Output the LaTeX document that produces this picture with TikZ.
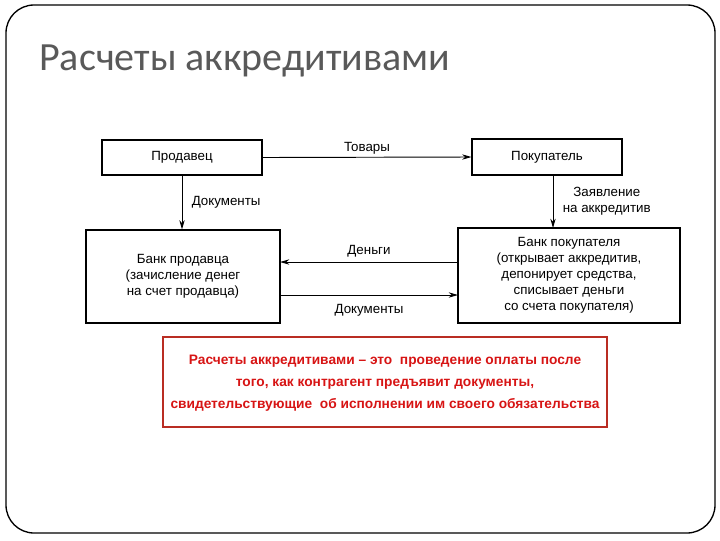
\documentclass[tikz,border=0pt]{standalone}
\usepackage{fontspec}
\setmainfont{Liberation Sans}
\newfontfamily\titlefont{Carlito}
\usetikzlibrary{arrows.meta}
\definecolor{deftext}{RGB}{215,20,20}
\definecolor{defborder}{RGB}{185,45,35}
\tikzset{
  px/.style={x=0.75pt,y=-0.75pt},
  ent/.style={draw,line width=0.8pt,inner sep=0pt,font=\fontsize{10}{12}\selectfont,align=center},
  lbl/.style={font=\fontsize{10}{12}\selectfont,inner sep=1pt,align=center},
  conn/.style={line width=0.7pt,-{Stealth[length=7pt,width=4pt]}},
}
\begin{document}
\begin{tikzpicture}[px]
\useasboundingbox (0,0) rectangle (720,540);
\draw[line width=1pt,rounded corners=21pt] (6,5) rectangle (715,533);
\node[anchor=base west,inner sep=0pt,text=black!65,font=\titlefont\fontsize{30}{36}\selectfont] (title) at (39,70) {Расчеты аккредитивами};

\node[ent,minimum width=120pt,minimum height=26.25pt] (seller) at (182,157.5) {Продавец};
\node[ent,minimum width=112.5pt,minimum height=27pt] (buyer) at (547,157) {Покупатель};
\node[ent,minimum width=145.5pt,minimum height=69.75pt] (sbank) at (183,276.5) {Банк продавца\\(зачисление денег\\на счет продавца)};
\node[ent,minimum width=166.5pt,minimum height=71.25pt] (bbank) at (569,275.5) {Банк покупателя\\(открывает аккредитив,\\депонирует средства,\\списывает деньги\\со счета покупателя)};

\draw[conn] (seller.east) -- (buyer.west) node[lbl,midway,above=1pt] (l1) {Товары};
\draw[conn] (seller.south) -- (seller.south |- sbank.north) node[lbl,midway,right=6pt] (l2) {Документы};
\coordinate (b1) at (553,175);
\coordinate (b2) at (553,228);
\draw[conn] (b1) -- (b2) node[lbl,midway,right=6pt] (l3) {Заявление\\на аккредитив};
\coordinate (m1) at (458,262);
\coordinate (m2) at (280,262);
\draw[conn] (m1) -- (m2) node[lbl,midway,above=2pt] (l4) {Деньги};
\coordinate (d1) at (280,295);
\coordinate (d2) at (458,295);
\draw[conn] (d1) -- (d2) node[lbl,midway,below=6pt] (l5) {Документы};

\node[draw=defborder,line width=0.8pt,minimum width=333pt,minimum height=67.5pt,inner sep=0pt] (defbox) at (385,382) {};
\node[text=deftext,align=center,font=\bfseries\fontsize{10.3}{16.5}\selectfont] (deftxt) at (385,383) {Расчеты аккредитивами -- это\ \ проведение оплаты после\\того, как контрагент предъявит документы,\\свидетельствующие\ \ об исполнении им своего обязательства};
\end{tikzpicture}
\end{document}
